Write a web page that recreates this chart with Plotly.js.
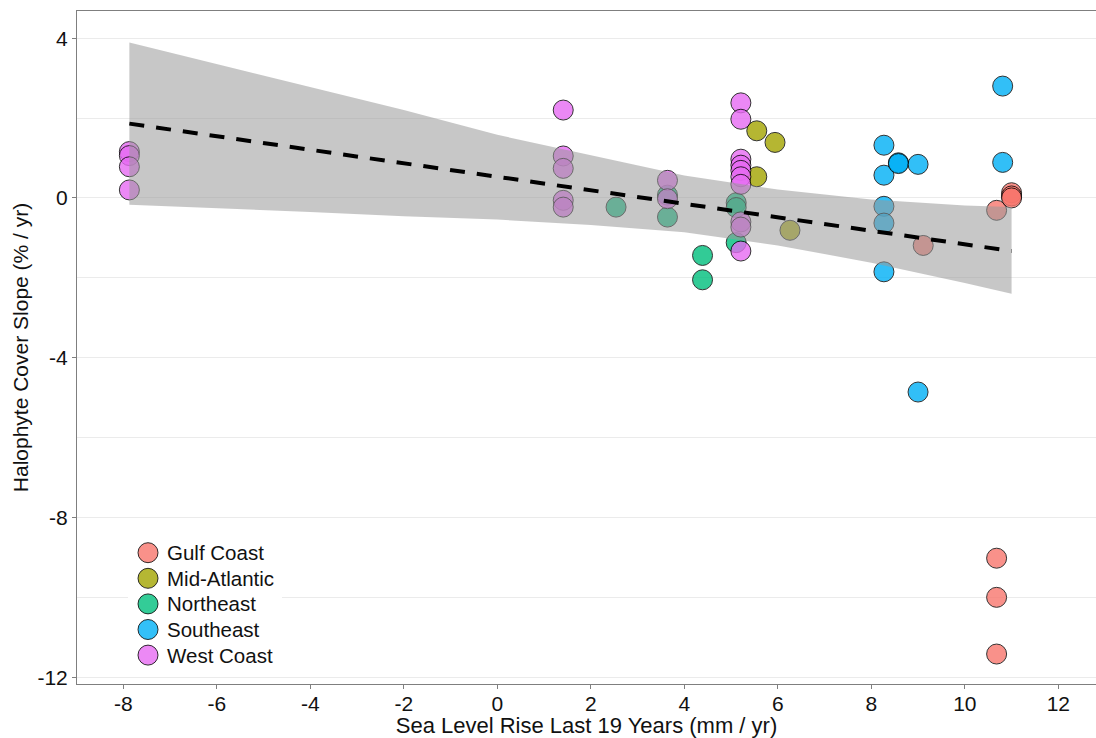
<!DOCTYPE html>
<html>
<head>
<meta charset="utf-8">
<script src="https://cdn.plot.ly/plotly-3.0.1.min.js"></script>
<style>html,body{margin:0;padding:0;background:#fff;}#chart{width:1096px;height:738px;}</style>
</head>
<body>
<div id="chart"></div>
<script>
// ---- data ----
const regions = ["Gulf Coast", "Mid-Atlantic", "Northeast", "Southeast", "West Coast"];
const regionColors = ["#F8766D", "#A3A500", "#00BF7D", "#00B0F6", "#E76BF3"];
const regionColorsA = ["rgba(248,118,109,0.8)", "rgba(163,165,0,0.8)", "rgba(0,191,125,0.8)",
                       "rgba(0,176,246,0.8)", "rgba(231,107,243,0.8)"];

const gulfX = [10.68, 11.0, 11.0, 11.0, 9.11, 10.68, 10.68, 10.68];
const gulfY = [-0.31, 0.13, 0.05, 0.0, -1.19, -9.02, -10.0, -11.42];

const midAtlX = [5.55, 5.94, 5.55, 6.26];
const midAtlY = [1.68, 1.39, 0.53, -0.81];

const northeastX = [2.54, 3.64, 3.64, 4.39, 4.39, 5.11, 5.11, 5.11];
const northeastY = [-0.23, 0.07, -0.48, -1.44, -2.05, -0.12, -0.24, -1.12];

const southeastX = [8.27, 8.27, 8.27, 8.27, 8.27, 8.58, 8.58, 9.0, 9.0, 10.81, 10.81];
const southeastY = [1.32, 0.57, -0.21, -0.63, -1.85, 0.88, 0.86, 0.84, -4.86, 2.80, 0.89];

const westX = [-7.87, -7.87, -7.87, -7.87, 1.41, 1.41, 1.41, 1.41, 1.41, 3.64, 3.64,
               5.21, 5.21, 5.21, 5.21, 5.21, 5.21, 5.21, 5.21, 5.21, 5.21];
const westY = [1.16, 1.06, 0.78, 0.20, 2.20, 1.05, 0.74, -0.06, -0.23, 0.44, -0.02,
               2.38, 1.97, 0.97, 0.82, 0.69, 0.53, 0.34, -0.60, -0.73, -1.33];

// fitted line and confidence band
const fitX = [-7.87, 11.0];
const fitY = [1.86, -1.33];
const bandX = [-7.87, -6, -4, -2, 0, 2, 4, 6, 8, 10, 11.0];
const bandUpper = [3.89, 3.35, 2.76, 2.20, 1.58, 1.07, 0.56, 0.21, -0.04, -0.19, -0.23];
const bandLower = [-0.17, -0.26, -0.35, -0.46, -0.54, -0.68, -0.86, -1.19, -1.62, -2.13, -2.40];

const xTickVals = [-8, -6, -4, -2, 0, 2, 4, 6, 8, 10, 12];
const xTickText = ["-8", "-6", "-4", "-2", "0", "2", "4", "6", "8", "10", "12"];
const yTickVals = [4, 0, -4, -8, -12];
const yTickText = ["4", "0", "-4", "-8", "-12"];

const seriesX = [gulfX, midAtlX, northeastX, southeastX, westX];
const seriesY = [gulfY, midAtlY, northeastY, southeastY, westY];

// ---- traces ----
const traces = regions.map((name, i) => ({
  type: "scatter", mode: "markers", name: name, showlegend: false,
  x: seriesX[i], y: seriesY[i],
  marker: { size: 20, color: regionColors[i], opacity: 0.8,
            line: { color: "#000", width: 1 } },
  hoverinfo: "x+y+name"
}));

traces.push({
  type: "scatter", mode: "lines", showlegend: false, hoverinfo: "skip",
  x: bandX.concat(bandX.slice().reverse()),
  y: bandUpper.concat(bandLower.slice().reverse()),
  fill: "toself", fillcolor: "rgba(153,153,153,0.55)",
  line: { width: 0, color: "rgba(0,0,0,0)" }
});

traces.push({
  type: "scatter", mode: "lines", showlegend: false, hoverinfo: "skip",
  x: fitX, y: fitY,
  line: { color: "#000", width: 4, dash: "15px,12px" }
});

const fam = "Liberation Sans, Arial, sans-serif";

// ---- legend drawn inside the panel (key box at lower left) ----
const W = 1096, H = 738, mL = 77, mR = 0, mT = 11, mB = 54;
const pw = W - mL - mR, ph = H - mT - mB;
const px2x = p => (p - mL) / pw;
const py2y = p => (H - mB - p) / ph;
const keyLeft = 128, keyRight = 282, keyTop = 536, keyBottom = 671;
const keyCx = 148, keyTx = 165, keyY0 = 552.7, keyStep = 25.6;

const shapes = [{
  type: "rect", xref: "paper", yref: "paper", layer: "above",
  x0: px2x(keyLeft), x1: px2x(keyRight), y0: py2y(keyBottom), y1: py2y(keyTop),
  fillcolor: "#fff", line: { width: 0 }
}];
const annotations = [];
regions.forEach((name, i) => {
  const cy = keyY0 + i * keyStep;
  shapes.push({
    type: "circle", xref: "paper", yref: "paper", layer: "above",
    xsizemode: "pixel", ysizemode: "pixel",
    xanchor: px2x(keyCx), yanchor: py2y(cy),
    x0: -10, x1: 10, y0: -10, y1: 10,
    fillcolor: regionColorsA[i], line: { color: "rgba(0,0,0,0.8)", width: 1 }
  });
  annotations.push({
    xref: "paper", yref: "paper", x: px2x(keyTx), y: py2y(cy),
    xanchor: "left", yanchor: "middle", showarrow: false,
    text: name, font: { family: fam, size: 20.5, color: "#111" }
  });
});

const layout = {
  width: W, height: H,
  margin: { l: mL, r: mR, t: mT, b: mB },
  paper_bgcolor: "#fff", plot_bgcolor: "#fff",
  font: { family: fam, color: "#111" },
  showlegend: false,
  shapes: shapes,
  annotations: annotations,
  xaxis: {
    range: [-8.99, 12.806],
    tickvals: xTickVals, ticktext: xTickText,
    showgrid: false, zeroline: false,
    showline: true, linecolor: "#7f7f7f", linewidth: 1, mirror: true,
    ticks: "outside", ticklen: 4, tickcolor: "#7f7f7f",
    ticklabelstandoff: -3,
    tickfont: { family: fam, size: 21, color: "#111" },
    title: { text: "Sea Level Rise Last 19 Years (mm / yr)",
             font: { family: fam, size: 22, color: "#111" }, standoff: 12 }
  },
  yaxis: {
    range: [-12.17, 4.68],
    tickvals: yTickVals, ticktext: yTickText,
    showgrid: true, gridcolor: "#ebebeb", gridwidth: 1,
    minor: { tickvals: [2, -2, -6, -10], showgrid: true, gridcolor: "#ebebeb", gridwidth: 1, ticklen: 0 },
    zeroline: false,
    showline: true, linecolor: "#7f7f7f", linewidth: 1,
    ticks: "outside", ticklen: 4, tickcolor: "#7f7f7f",
    tickfont: { family: fam, size: 21, color: "#111" },
    title: { text: "Halophyte Cover Slope (% / yr)",
             font: { family: fam, size: 21, color: "#111" }, standoff: 3 }
  }
};

Plotly.newPlot("chart", traces, layout, { displayModeBar: false, responsive: false });
</script>
</body>
</html>
